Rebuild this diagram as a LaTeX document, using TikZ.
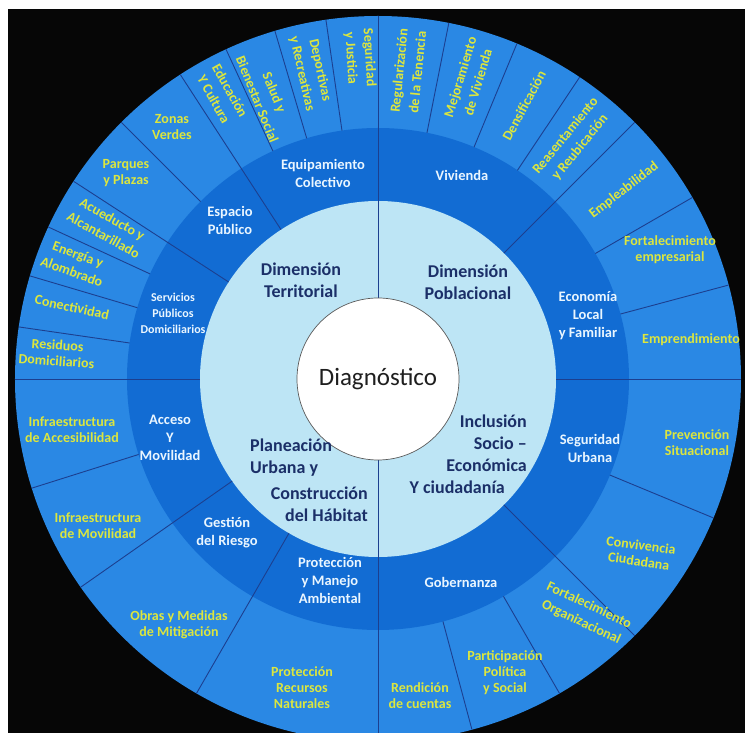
\documentclass[tikz,border=0pt]{standalone}
\usepackage{fontspec}
\setmainfont{Carlito}
\definecolor{bgblack}{HTML}{060606}
\definecolor{outerblue}{HTML}{2A88E4}
\definecolor{midblue}{HTML}{126CD3}
\definecolor{lightring}{HTML}{BDE5F5}
\definecolor{sepblue}{HTML}{1C3F8F}
\definecolor{outertxt}{HTML}{DCE63E}
\definecolor{midtxt}{HTML}{EAF6FF}
\definecolor{innertxt}{HTML}{1B2F68}
\begin{document}
\begin{tikzpicture}[x=1pt,y=1pt,
  outerlab/.style={text=outertxt, font=\bfseries\fontsize{14}{16}\selectfont, align=center, inner sep=0pt},
  rotlab/.style={outerlab, font=\bfseries\fontsize{14}{18.5}\selectfont},
  midlab/.style={text=midtxt, font=\bfseries\fontsize{14.5}{18}\selectfont, align=center, inner sep=0pt},
  innerlab/.style={text=innertxt, font=\bfseries\fontsize{18}{22}\selectfont, inner sep=0pt},
  sepline/.style={draw=sepblue, line width=0.9pt}]
\useasboundingbox (-378,-354) rectangle (367,379);
\fill[white] (-378,-354) rectangle (367,379);
\fill[bgblack] (-370,-354) rectangle (367,370);
\begin{scope}
  \clip (-370,-354) rectangle (367,370);
  \fill[outerblue] (0,0) circle (363);
  \fill[midblue] (0,0) circle (251);
  \fill[lightring] (0,0) circle (178);
  \foreach \a in {78.75,67.5,56.25,30,15,-22.5,-60,-75,-162.5,171.75,163.5,155.25,135,114.75,106.5,98.25}
    \draw[sepline] (\a:251) -- (\a:363);
  \foreach \a in {90,45,0,-45,-90,-120,-145,180,147,123}
    \draw[sepline] (\a:178) -- (\a:363);
  \draw[sepline, line width=0.7pt] (90:81) -- (90:178);
  \draw[sepline, line width=0.7pt] (-90:81) -- (-90:178);
\end{scope}
\fill[white, draw=gray!70!black, line width=0.7pt] (0,0) circle (81);

% centre
\node[text=black!88, font=\fontsize{25}{29}\selectfont, inner sep=0pt] (diag) at (0,0) {Diagnóstico};

% inner ring
\node[innerlab, align=center] (dimter) at (-77,99) {Dimensión\\Territorial};
\node[innerlab, align=center] (dimpob) at (90,97) {Dimensión\\Poblacional};
\node[innerlab, align=right, anchor=east] (inclus) at (149,-75) {Inclusión\\Socio –\\Económica\\Y ciudadanía\hspace*{22pt}};
\node[innerlab, align=left, anchor=west] (planea) at (-128,-79) {Planeación\\Urbana y};
\node[innerlab, align=right, anchor=east] (constr) at (-10,-125) {Construcción\\del Hábitat};

% middle ring
\node[midlab] (equip) at (-55,206) {Equipamiento\\Colectivo};
\node[midlab] (vivie) at (84,204) {Vivienda};
\node[midlab] (espac) at (-148,159) {Espacio\\Público};
\node[midlab, font=\bfseries\fontsize{12}{16}\selectfont] (servi) at (-205,66) {Servicios\\Públicos\\Domiciliarios};
\node[midlab] (econo) at (210,63) {Economía\\Local\\y Familiar};
\node[midlab] (segur) at (212,-69) {Seguridad\\Urbana};
\node[midlab] (gober) at (83,-203) {Gobernanza};
\node[midlab] (prote) at (-48,-201) {Protección\\y Manejo\\Ambiental};
\node[midlab] (gesti) at (-151,-154) {Gestión\\del Riesgo};
\node[midlab] (acces) at (-208,-59) {Acceso\\Y\\Movilidad};

% outer ring
\node[rotlab, rotate=84.4] (o1) at (84.4:309) {Regularización\\de la Tenencia};
\node[rotlab, rotate=73.1] (o2) at (73.1:313) {Mejoramiento\\de Vivienda};
\node[rotlab, rotate=61.9] (o3) at (61.9:310) {Densificación};
\node[rotlab, rotate=50.6] (o4) at (50.6:307) {Reasentamiento\\y Reubicación};
\node[rotlab, rotate=37.5] (o5) at (37.5:310) {Empleabilidad};
\node[outerlab] (o6) at (292,129) {Fortalecimiento\\empresarial};
\node[outerlab] (o7) at (313,39) {Emprendimiento};
\node[outerlab] (o8) at (319,-64) {Prevención\\Situacional};
\node[outerlab, rotate=-8] (o9) at (262,-174) {Convivencia\\Ciudadana};
\node[rotlab, rotate=-25] (o10) at (207,-235) {Fortalecimiento\\Organizacional};
\node[outerlab] (o11) at (127,-294) {Participación\\Política\\y Social};
\node[outerlab] (o12) at (42,-317) {Rendición\\de cuentas};
\node[outerlab] (o13) at (-76,-309) {Protección\\Recursos\\Naturales};
\node[outerlab] (o14) at (-199,-246) {Obras y Medidas\\de Mitigación};
\node[outerlab] (o15) at (-280,-147) {Infraestructura\\de Movilidad};
\node[outerlab] (o16) at (-306,-51) {Infraestructura\\de Accesibilidad};
\node[outerlab, rotate=-4] (o17) at (-321,26) {Residuos\\Domiciliarios};
\node[outerlab, rotate=-12] (o18) at (-306,72) {Conectividad};
\node[rotlab, rotate=-20] (o19) at (-303,116) {Energía y\\Alombrado};
\node[rotlab, rotate=-29] (o20) at (-270,152) {Acueducto y\\Alcantarillado};
\node[outerlab] (o21) at (-252,206) {Parques\\y Plazas};
\node[outerlab] (o22) at (-206,252) {Zonas\\Verdes};
\node[rotlab, rotate=-61] (o23) at (-156,284) {Educación\\Y Cultura};
\node[rotlab, rotate=-68] (o24) at (-112,283) {Salud y\\Bienestar Social};
\node[rotlab, rotate=-77.5] (o25) at (-67,307) {Deportivas\\y Recreativas};
\node[rotlab, rotate=-86.6] (o26) at (-18,321) {Seguridad\\y Justicia};
\end{tikzpicture}
\end{document}
